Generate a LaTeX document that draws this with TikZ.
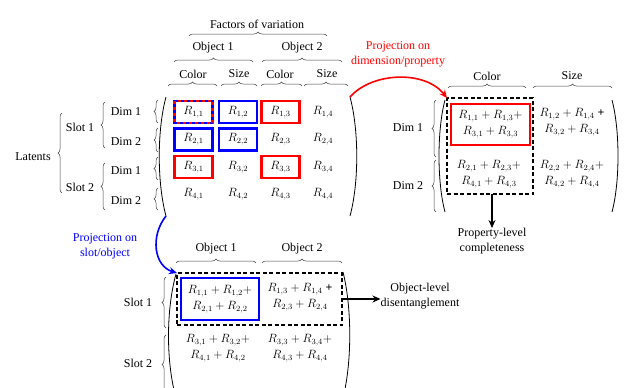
\documentclass[tikz,border=0pt]{standalone}
\usepackage{fontspec}
\setmainfont{Liberation Serif}
\usetikzlibrary{decorations.pathreplacing,arrows.meta}
\begin{document}
\begin{tikzpicture}[x=1pt,y=-1pt,font=\fontsize{12}{15}\selectfont,
  ent/.style={inner sep=0pt,outer sep=0pt,minimum width=38pt,minimum height=22pt},
  ment/.style={inner sep=0pt,outer sep=0pt,align=center,font=\fontsize{12}{16}\selectfont},
  bbox/.style={draw=blue,line width=2.2pt},
  rbox/.style={draw=red,line width=2.2pt},
  brc/.style={decorate,decoration={brace,amplitude=4pt},draw=black!75,line width=0.5pt},
  paren/.style={line width=0.8pt},
  dbox/.style={draw,line width=2pt,dash pattern=on 4pt off 2.5pt,inner sep=0pt,outer sep=0pt},
  lbl/.style={inner sep=0pt,align=center},
  conn/.style={-{Stealth[length=8pt,width=7pt]},line width=1.3pt}]
\useasboundingbox (0,0) rectangle (640,388);

% ---------- top matrix headers ----------
\node[lbl] (fov) at (257,24) {Factors of variation};
\draw[brc] (189,36) -- (327,36);
\node[lbl] (o1) at (213,48) {Object 1};
\node[lbl] (o2) at (302,48) {Object 2};
\draw[brc] (174,62) -- (253,62);
\draw[brc] (262,62) -- (342,62);
\node[lbl] (c1) at (193,74) {Color};
\node[lbl] (s1) at (239,74) {Size};
\node[lbl] (c2) at (280,74) {Color};
\node[lbl] (s2) at (327,74) {Size};
\draw[brc] (168,86) -- (217,86);
\draw[brc] (221,86) -- (257,86);
\draw[brc] (261,86) -- (302,86);
\draw[brc] (304,86) -- (348,86);

% ---------- top matrix left labels ----------
\draw[brc] (158,123) -- (158,100);
\draw[brc] (158,152) -- (158,128);
\draw[brc] (158,180) -- (158,157);
\draw[brc] (158,210) -- (158,188);
\node[lbl] (d1) at (126,112) {Dim 1};
\node[lbl] (d2) at (126,142) {Dim 2};
\node[lbl] (d3) at (126,171) {Dim 1};
\node[lbl] (d4) at (126,201) {Dim 2};
\draw[brc] (105,148) -- (105,102);
\draw[brc] (105,210) -- (105,163);
\node[lbl] (sl1) at (80,127) {Slot 1};
\node[lbl] (sl2) at (80,187) {Slot 2};
\draw[brc] (62,193) -- (62,113);
\node[lbl] (lat) at (33,157) {Latents};

% ---------- top matrix ----------
\coordinate (tpTL) at (166,97);
\coordinate (tpBL) at (166,216);
\coordinate (tpTR) at (350,97);
\coordinate (tpBR) at (350,216);
\draw[paren] (tpTL) .. controls (157,130) and (157,183) .. (tpBL);
\draw[paren] (tpTR) .. controls (359,130) and (359,183) .. (tpBR);

\node[ent,bbox] (m11) at (193.5,112) {$R_{1,1}$};
\draw[red,line width=2.2pt,dash pattern=on 3pt off 3pt] (m11.north west) rectangle (m11.south east);
\node[ent,bbox] (m12) at (238,112) {$R_{1,2}$};
\node[ent,rbox] (m13) at (280.5,112) {$R_{1,3}$};
\node[ent] (m14) at (323,112) {$R_{1,4}$};
\node[ent,bbox] (m21) at (193.5,139.5) {$R_{2,1}$};
\node[ent,bbox] (m22) at (238,139.5) {$R_{2,2}$};
\node[ent] (m23) at (280.5,139.5) {$R_{2,3}$};
\node[ent] (m24) at (323,139.5) {$R_{2,4}$};
\node[ent,rbox] (m31) at (193.5,167) {$R_{3,1}$};
\node[ent] (m32) at (238,167) {$R_{3,2}$};
\node[ent,rbox] (m33) at (280.5,167) {$R_{3,3}$};
\node[ent] (m34) at (323,167) {$R_{3,4}$};
\node[ent] (m41) at (193.5,194) {$R_{4,1}$};
\node[ent] (m42) at (238,194) {$R_{4,2}$};
\node[ent] (m43) at (280.5,194) {$R_{4,3}$};
\node[ent] (m44) at (323,194) {$R_{4,4}$};

% ---------- right matrix ----------
\node[lbl] (rc) at (487,76) {Color};
\node[lbl] (rs) at (572,76) {Size};
\draw[brc] (448,88) -- (526,88);
\draw[brc] (533,88) -- (612,88);
\draw[brc] (436,157) -- (436,100);
\draw[brc] (436,212) -- (436,160);
\node[lbl] (rd1) at (408,128) {Dim 1};
\node[lbl] (rd2) at (408,186) {Dim 2};
\draw[paren] (445,100) .. controls (437,130) and (437,182) .. (445,212);
\draw[paren] (612,100) .. controls (620,130) and (620,182) .. (612,212);

\node[dbox,minimum width=86pt,minimum height=96pt] (dP) at (490,146) {};
\node[ment,rbox,minimum width=79pt,minimum height=41pt] (r11) at (490.5,124.5) {$R_{1,1}+R_{1,3}+$\\$R_{3,1}+R_{3,3}$};
\node[ment] (r12) at (572,122.5) {$R_{1,2}+R_{1,4}$ \textbf{+}\\$R_{3,2}+R_{3,4}$};
\node[ment] (r21) at (489,174.5) {$R_{2,1}+R_{2,3}+$\\$R_{4,1}+R_{4,3}$};
\node[ment] (r22) at (572,174.5) {$R_{2,2}+R_{2,4}+$\\$R_{4,2}+R_{4,4}$};

\node[lbl,anchor=north] (prop) at (492,228) {Property-level\\completeness};
\draw[conn] (dP.south -| prop.north) -- (prop.north);

\node[lbl,red] (projD) at (398,54) {Projection on\\dimension/property};
\draw[conn,red,line width=1.6pt] (tpTR) .. controls (372,72) and (425,70) .. (dP.north west);

% ---------- bottom matrix ----------
\node[lbl] (bo1) at (216,249) {Object 1};
\node[lbl] (bo2) at (302,249) {Object 2};
\draw[brc] (176,263) -- (256,263);
\draw[brc] (262,263) -- (342,263);
\draw[brc] (166,328) -- (166,277);
\draw[brc] (166,394) -- (166,335);
\node[lbl] (bs1) at (138,302) {Slot 1};
\node[lbl] (bs2) at (138,363) {Slot 2};
\draw[paren] (176,274) .. controls (166,310) and (166,362) .. (176,398);
\draw[paren] (343,272) .. controls (352,308) and (352,362) .. (343,398);

\node[dbox,minimum width=165pt,minimum height=52pt] (dO) at (259.5,299) {};
\node[ment,bbox,minimum width=78pt,minimum height=42pt] (b11) at (220,299) {$R_{1,1}+R_{1,2}+$\\$R_{2,1}+R_{2,2}$};
\node[ment] (b12) at (300,297.5) {$R_{1,3}+R_{1,4}$ \textbf{+}\\$R_{2,3}+R_{2,4}$};
\node[ment] (b21) at (218,348.5) {$R_{3,1}+R_{3,2}+$\\$R_{4,1}+R_{4,2}$};
\node[ment] (b22) at (300,348.5) {$R_{3,3}+R_{3,4}+$\\$R_{4,3}+R_{4,4}$};

\node[lbl] (objl) at (420,296) {Object-level\\disentanglement};
\draw[conn] (dO.east) -- (objl.west |- dO.east);

\node[lbl,blue] (projS) at (105,246) {Projection on\\slot/object};
\draw[conn,blue,line width=1.6pt] (tpBL) .. controls (150,236) and (154,266) .. (dO.north west);
\end{tikzpicture}
\end{document}
